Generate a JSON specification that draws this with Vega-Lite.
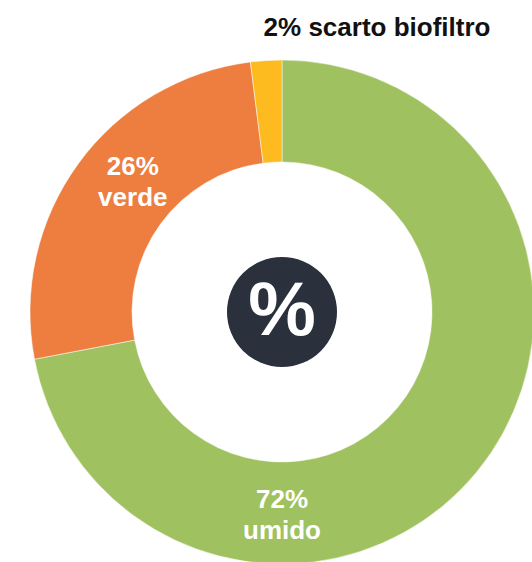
{
  "$schema": "https://vega.github.io/schema/vega-lite/v6.json",
  "width": 500,
  "height": 500,
  "autosize": {"type": "none"},
  "padding": {"left": 32, "top": 62, "right": 0, "bottom": 0},
  "background": "white",
  "title": {
    "text": "2% scarto biofiltro",
    "font": "Liberation Sans",
    "fontSize": 26,
    "fontWeight": "bold",
    "color": "#111111",
    "anchor": "middle",
    "dx": 95,
    "offset": 18
  },
  "config": {"view": {"stroke": null}},
  "resolve": {"scale": {"theta": "independent", "color": "independent"}},
  "layer": [
    {
      "data": {"values": [
        {"categoria": "umido", "percentuale": 72, "ordine": 1},
        {"categoria": "verde", "percentuale": 26, "ordine": 2},
        {"categoria": "scarto biofiltro", "percentuale": 2, "ordine": 3}
      ]},
      "mark": {"type": "arc", "innerRadius": 150, "outerRadius": 252, "stroke": "white", "strokeWidth": 0.5},
      "encoding": {
        "theta": {"field": "percentuale", "type": "quantitative", "stack": true},
        "order": {"field": "ordine", "type": "quantitative"},
        "color": {
          "field": "categoria",
          "type": "nominal",
          "scale": {"domain": ["umido", "verde", "scarto biofiltro"], "range": ["#9FC160", "#EE7E40", "#FDBB1F"]},
          "legend": null
        }
      }
    },
    {
      "data": {"values": [{"centro": 1}]},
      "mark": {"type": "arc", "outerRadius": 55, "color": "#2A303C"},
      "encoding": {"theta": {"field": "centro", "type": "quantitative"}}
    },
    {
      "data": {"values": [{"simbolo": "%"}]},
      "mark": {"type": "text", "font": "Liberation Sans", "fontWeight": "bold", "fontSize": 76, "color": "white", "align": "center", "baseline": "middle"},
      "encoding": {"text": {"field": "simbolo"}}
    },
    {
      "data": {"values": [
        {"etichetta": ["72%", "umido"], "angolo": 50},
        {"etichetta": ["26%", "verde"], "angolo": 86.6}
      ]},
      "mark": {"type": "text", "font": "Liberation Sans", "fontWeight": "bold", "fontSize": 26, "lineHeight": 31, "dy": -12, "color": "white", "align": "center", "baseline": "middle"},
      "encoding": {
        "theta": {"field": "angolo", "type": "quantitative", "stack": null, "scale": {"domain": [0, 100]}},
        "radius": {"value": 200},
        "text": {"field": "etichetta"}
      }
    }
  ]
}
